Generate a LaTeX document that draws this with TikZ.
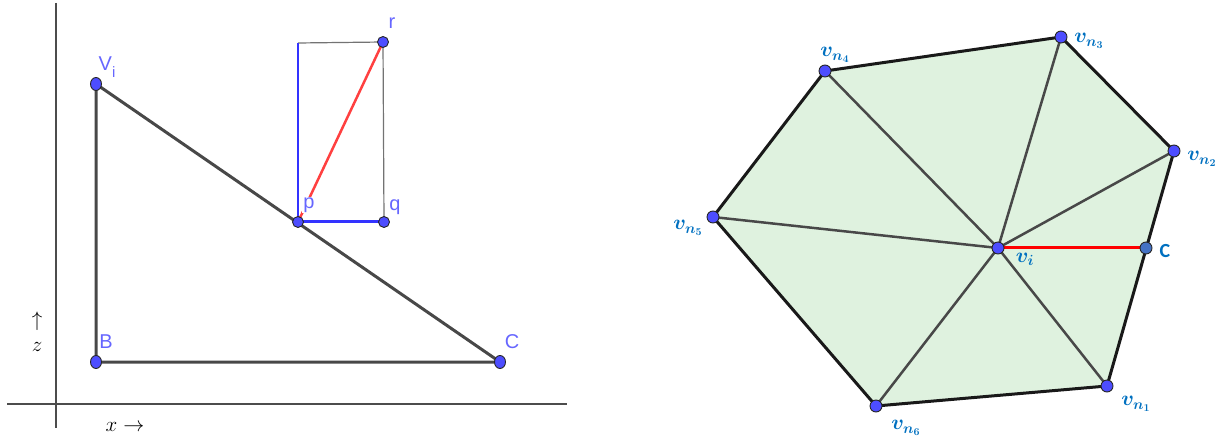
\RequirePackage{fix-cm}
\documentclass[tikz,border=0pt]{standalone}
\usepackage{fontspec}
\usepackage{amsmath}
\usetikzlibrary{shapes.geometric}
\newfontfamily\ggb{Liberation Sans}
\newfontfamily\calfont{Carlito}
\definecolor{ptblue}{RGB}{77,77,255}
\definecolor{lblue}{RGB}{102,102,255}
\definecolor{edge}{RGB}{72,72,72}
\definecolor{outer}{RGB}{25,25,25}
\definecolor{fillg}{RGB}{223,242,223}
\definecolor{mblue}{RGB}{0,112,192}
\definecolor{cpt}{RGB}{68,114,196}
\definecolor{rectblue}{RGB}{51,51,255}
\definecolor{ggbred}{RGB}{255,64,64}
\tikzset{
  pt/.style={circle, fill=ptblue, draw=black!85, line width=0.9pt, minimum size=12pt, inner sep=0pt},
  ept/.style={ellipse, fill=ptblue, draw=black!85, line width=0.9pt, minimum width=11pt, minimum height=13pt, inner sep=0pt},
  cptstyle/.style={pt, fill=cpt},
  ggblab/.style={text=lblue, font=\ggb\fontsize{20}{20}\selectfont, inner sep=0pt},
  mlab/.style={text=mblue, font=\fontsize{21}{21}\selectfont\boldmath, inner sep=0pt},
  axlab/.style={font=\fontsize{21}{21}\selectfont, inner sep=0pt},
  axis/.style={draw=black!70, line width=1.4pt},
  tri/.style={draw=edge, line width=3pt},
  thinrect/.style={draw=black!55, line width=1.2pt},
  bluerect/.style={draw=rectblue, line width=2pt},
  redline/.style={draw=ggbred, line width=2.5pt},
  spoke/.style={draw=edge, line width=2.5pt},
  rim/.style={draw=outer, line width=3pt, line join=round},
}
\begin{document}
\begin{tikzpicture}[x=1pt,y=-1pt]
\useasboundingbox (0,0) rectangle (1218,438);
% ---------- left panel ----------
\coordinate (ax0) at (56,3);
\coordinate (ax1) at (56,428);
\coordinate (ay0) at (7,404);
\coordinate (ay1) at (567,404);
\draw[axis] (ax0) -- (ax1);
\draw[axis] (ay0) -- (ay1);

\coordinate (Vi) at (96,84);
\coordinate (B) at (96,362);
\coordinate (C) at (500,362);
\coordinate (p) at (298,222);
\coordinate (q) at (384,222);
\coordinate (r) at (383,42);
\coordinate (tl) at (298,43);

\draw[tri] (Vi) -- (B) -- (C) -- cycle;
\draw[thinrect] (tl) -- (r) -- (q);
\draw[bluerect] (p) -- (tl);
\draw[bluerect, line width=3pt] (p) -- (q);
\draw[redline] (p) -- (r);

\node[ept] (nVi) at (Vi) {};
\node[ept] (nB) at (B) {};
\node[ept] (nC) at (C) {};
\node[pt, minimum size=11pt] (np) at (p) {};
\node[pt, minimum size=11pt] (nq) at (q) {};
\node[pt, minimum size=11pt] (nr) at (r) {};

\node[ggblab] (lVi) at (107,67) {V\raisebox{-7pt}{\fontsize{15}{15}\selectfont i}};
\node[ggblab] (lB) at (106,342) {B};
\node[ggblab] (lC) at (512,342) {C};
\node[ggblab, fill=white, inner sep=1pt] (lp) at (309,205) {p};
\node[ggblab] (lq) at (395,207) {q};
\node[ggblab] (lr) at (392,23) {r};

\node[axlab] (up) at (37,321) {$\uparrow$};
\node[axlab] (zl) at (37,347) {$z$};
\node[axlab] (xl) at (125,427) {$x \rightarrow$};

% ---------- right panel ----------
\coordinate (n1) at (1107,386);
\coordinate (n2) at (1174,151);
\coordinate (n3) at (1061,37);
\coordinate (n4) at (825,71);
\coordinate (n5) at (713,217);
\coordinate (n6) at (876,406);
\coordinate (vi) at (998,248);
\coordinate (cc) at (1146,248);

\fill[fillg] (n1) -- (n2) -- (n3) -- (n4) -- (n5) -- (n6) -- cycle;
\foreach \k in {n1,n2,n3,n4,n5,n6} \draw[spoke] (vi) -- (\k);
\draw[rim] (n1) -- (n2) -- (n3) -- (n4) -- (n5) -- (n6) -- cycle;
\draw[redline, draw=red, line width=3pt] (vi) -- (cc);

\node[pt] (m1) at (n1) {};
\node[pt] (m2) at (n2) {};
\node[pt] (m3) at (n3) {};
\node[pt] (m4) at (n4) {};
\node[pt] (m5) at (n5) {};
\node[pt] (m6) at (n6) {};
\node[pt] (mvi) at (vi) {};
\node[cptstyle] (mc) at (cc) {};

\node[mlab] (l1) at (1136,404) {$v_{n_1}$};
\node[mlab] (l2) at (1202,159) {$v_{n_2}$};
\node[mlab] (l3) at (1089,41) {$v_{n_3}$};
\node[mlab] (l4) at (835,55) {$v_{n_4}$};
\node[mlab] (l5) at (688,228) {$v_{n_5}$};
\node[mlab] (l6) at (906,428) {$v_{n_6}$};
\node[mlab] (lvi) at (1025,259) {$v_i$};
\node[mlab, font=\calfont\bfseries\fontsize{20}{20}\selectfont] (lc) at (1165,251) {C};
\end{tikzpicture}
\end{document}
